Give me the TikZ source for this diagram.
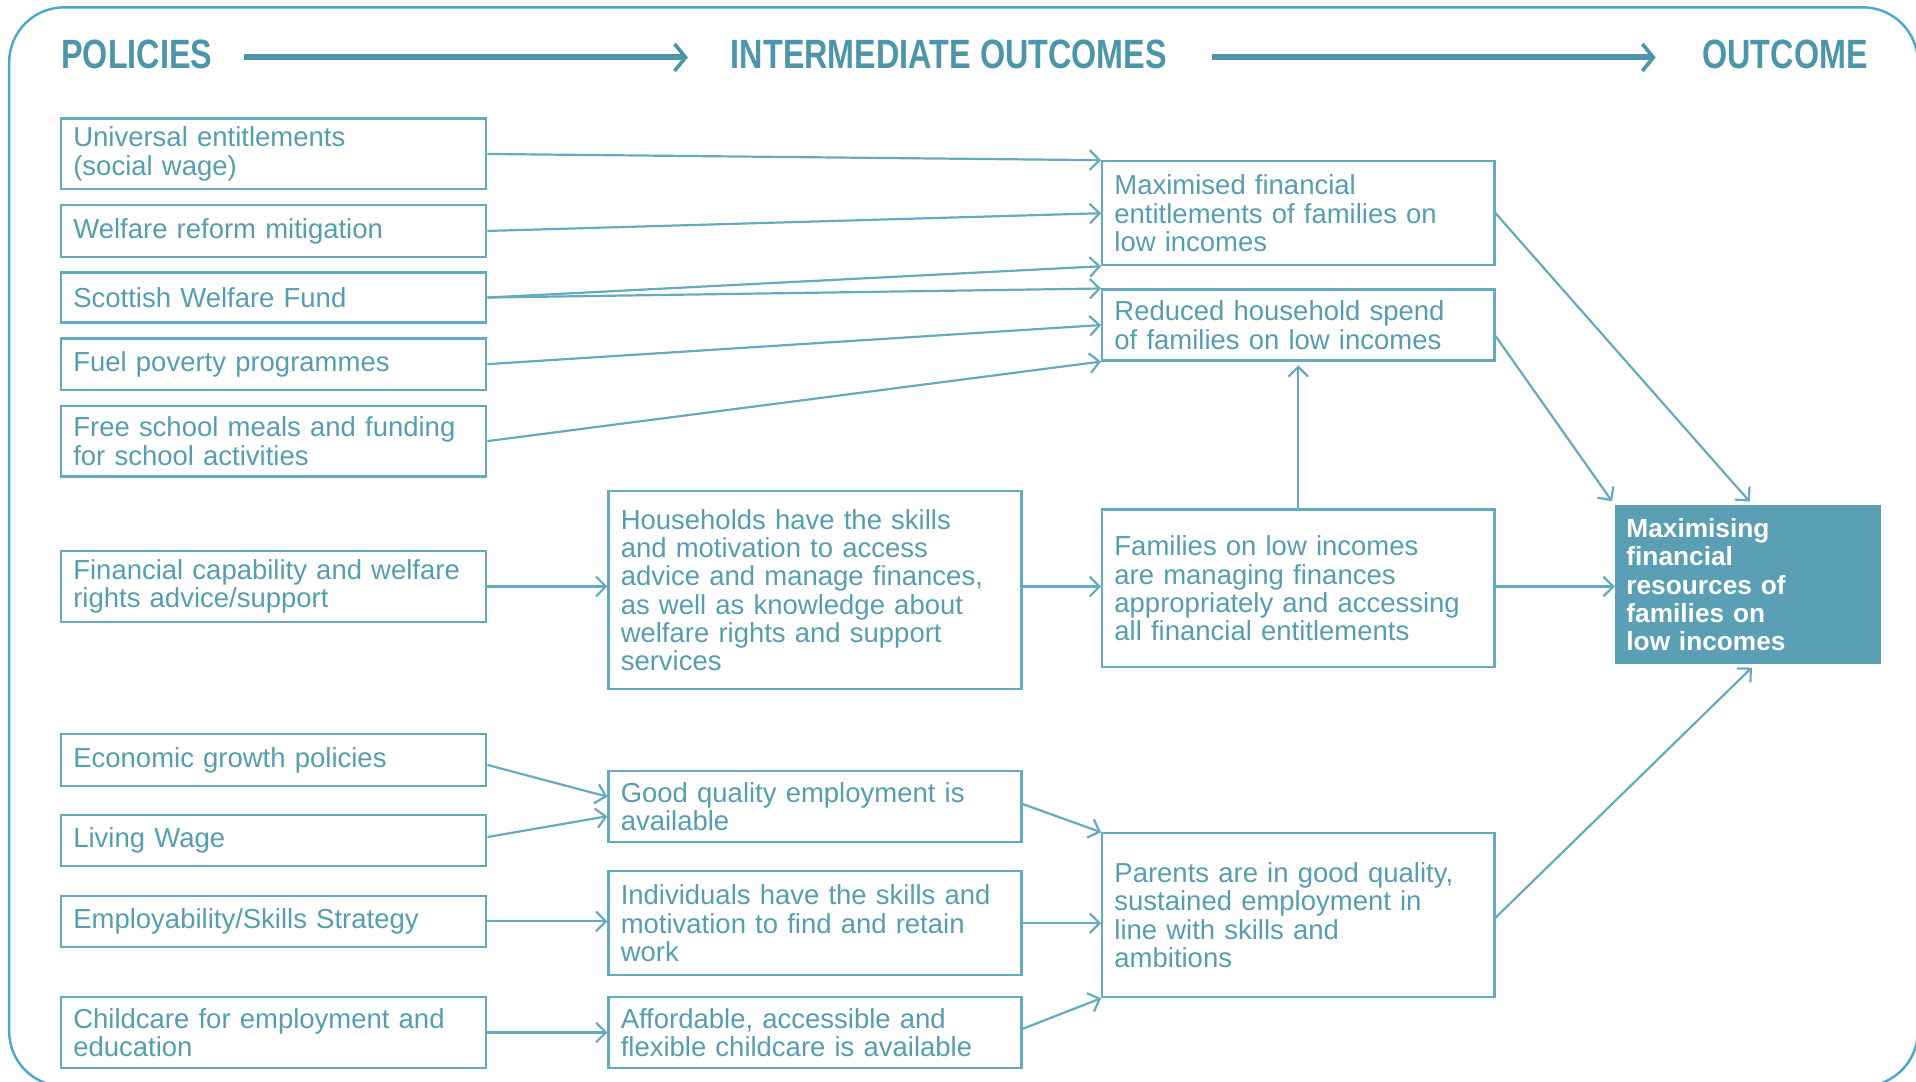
\documentclass[tikz,border=0pt]{standalone}
\usepackage{fontspec}
\setmainfont{Liberation Sans}
\newfontfamily\headfont[FakeStretch=0.79]{Liberation Sans}
\usetikzlibrary{arrows.meta}

\definecolor{boxline}{HTML}{66AABD}
\definecolor{bodytext}{HTML}{569DB0}
\definecolor{headtext}{HTML}{4D96A9}
\definecolor{outfill}{HTML}{5A9FB3}
\definecolor{frame}{HTML}{4AA9C9}

\newcommand{\bodyfont}{\fontsize{22.5}{23.2}\selectfont}
\newcommand{\outfont}{\fontsize{21.5}{23}\selectfont\bfseries}
\newcommand{\hfont}{\headfont\bfseries\fontsize{33.5}{36}\selectfont}

\begin{document}
\begin{tikzpicture}[x=1pt, y=-1pt,
  box/.style={draw=boxline, line width=1.8pt, text=bodytext, font=\bodyfont,
    align=left, inner xsep=10pt, inner ysep=2pt},
  lbox/.style={box, text width=328pt},
  mbox/.style={box, text width=318pt},
  rbox/.style={box, text width=301pt},
  head/.style={text=headtext, font=\hfont, inner sep=0pt, anchor=base west},
  conn/.style={draw=boxline, line width=1.8pt,
    -{Straight Barb[length=8pt,width=16pt]}},
  headarrow/.style={draw=headtext, line width=5pt,
    -{Straight Barb[length=9pt,width=22pt,line width=3pt]}}]

% page extent
\useasboundingbox (0,0) rectangle (1568,885);

% outer frame (its right and lower sides run just past the page edge)
\draw[frame, line width=2pt, rounded corners=45pt] (7.5,6) rectangle (1569.5,889);

% column headings
\node[head] (H1) at (50,56) {POLICIES};
\node[head] (H2) at (598,56) {INTERMEDIATE OUTCOMES};
\node[head] (H3) at (1393,56) {OUTCOME};
\coordinate (a1s) at (200,47);
\coordinate (a1e) at (563,47);
\coordinate (a2s) at (992,47);
\coordinate (a2e) at (1355,47);
\draw[headarrow] (a1s) -- (a1e);
\draw[headarrow] (a2s) -- (a2e);

% policies
\node[lbox, minimum height=58pt] (L1) at (224,126) {Universal entitlements\\(social wage)};
\node[lbox, minimum height=42pt] (L2) at (224,189) {Welfare reform mitigation};
\node[lbox, minimum height=41pt] (L3) at (224,243.5) {Scottish Welfare Fund};
\node[lbox, minimum height=42pt] (L4) at (224,298) {Fuel poverty programmes};
\node[lbox, minimum height=58pt] (L5) at (224,361) {Free school meals and funding\\for school activities};
\node[lbox, minimum height=58pt] (L6) at (224,480) {Financial capability and welfare\\rights advice/support};
\node[lbox, minimum height=42pt] (L7) at (224,622) {Economic growth policies};
\node[lbox, minimum height=42pt] (L8) at (224,688) {Living Wage};
\node[lbox, minimum height=42pt] (L9) at (224,754) {Employability/Skills Strategy};
\node[lbox, minimum height=58pt] (L10) at (224,845) {Childcare for employment and\\education};

% first-level intermediate outcomes
\node[mbox, minimum height=162pt] (M1) at (667,483) {Households have the skills\\and motivation to access\\advice and manage finances,\\as well as knowledge about\\welfare rights and support\\services};
\node[mbox, minimum height=58pt] (M2) at (667,660) {Good quality employment is\\available};
\node[mbox, minimum height=85pt] (M3) at (667,755.5) {Individuals have the skills and\\motivation to find and retain\\work};
\node[mbox, minimum height=58pt] (M4) at (667,845) {Affordable, accessible and\\flexible childcare is available};

% second-level intermediate outcomes
\node[rbox, minimum height=85pt] (R1) at (1062.5,174.5) {Maximised financial\\entitlements of families on\\low incomes};
\node[rbox, minimum height=58pt] (R2) at (1062.5,266) {Reduced household spend\\of families on low incomes};
\node[rbox, minimum height=129pt] (R3) at (1062.5,481.5) {Families on low incomes\\are managing finances\\appropriately and accessing\\all financial entitlements};
\node[rbox, minimum height=134pt] (R4) at (1062.5,749) {Parents are in good quality,\\sustained employment in\\line with skills and\\ambitions};

% outcome
\node[fill=outfill, draw=outfill, line width=1pt, text=white, font=\outfont,
  align=left, text width=199pt, inner xsep=9pt, minimum height=129pt]
  (OUT) at (1430.5,478.5) {Maximising\\financial\\resources of\\families on\\low incomes};

% policies to outcomes
\draw[conn] (L1.east) -- (R1.north west);
\draw[conn] (L2.east) -- (R1.west);
\draw[conn] (L3.east) -- (R1.south west);
\draw[conn] (L3.east) -- (R2.north west);
\draw[conn] (L4.east) -- (R2.west);
\draw[conn] (L5.east) -- (R2.south west);
\draw[conn] (L6.east) -- (L6.east -| M1.west);
\draw[conn] (L6.east -| M1.east) -- (L6.east -| R3.west);
\draw[conn] (L6.east -| R3.east) -- (L6.east -| OUT.west);
\draw[conn, shorten >=3pt] (R3.north) -- (R2.south);
\draw[conn, shorten >=4pt] (R1.east) -- ([xshift=4pt]OUT.north);
\draw[conn, shorten >=4pt] ([yshift=-9pt]R2.east) -- (OUT.north west);
\draw[conn, shorten >=4pt] ([yshift=-2pt]R4.east) -- ([xshift=6pt]OUT.south);
\draw[conn] ([yshift=-4pt]L7.east) -- ([yshift=8pt]M2.west);
\draw[conn] ([yshift=3pt]L8.east) -- ([yshift=-8pt]M2.west);
\draw[conn] (L9.east) -- (L9.east -| M3.west);
\draw[conn] (L10.east) -- (M4.west);
\draw[conn] ([yshift=2pt]M2.east) -- (R4.north west);
\draw[conn] (M3.east) -- (M3.east -| R4.west);
\draw[conn] ([yshift=3pt]M4.east) -- (R4.south west);
\end{tikzpicture}
\end{document}
